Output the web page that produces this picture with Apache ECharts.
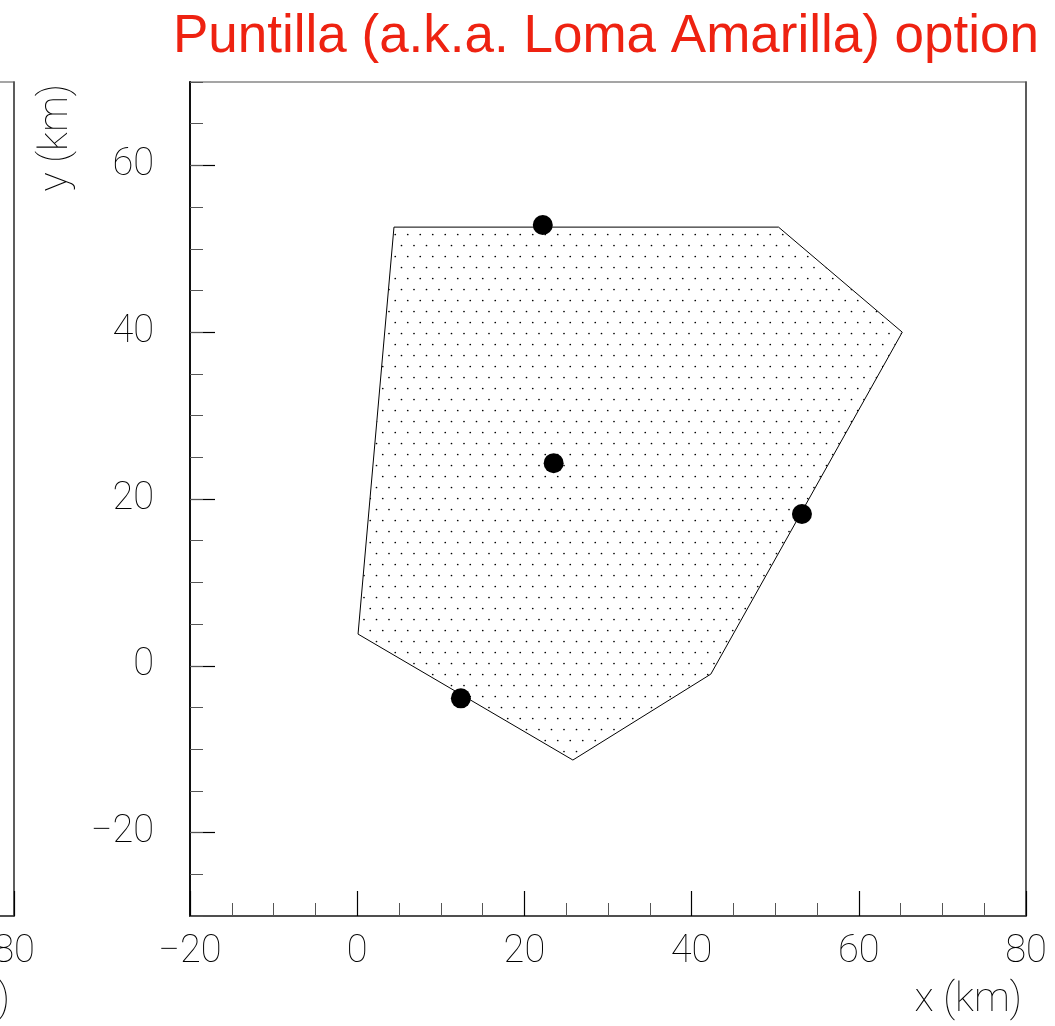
<!DOCTYPE html>
<html><head><meta charset="utf-8">
<script src="https://cdn.jsdelivr.net/npm/echarts@6/dist/echarts.min.js"></script>
<style>html,body{margin:0;padding:0;background:#fff}#c{width:1055px;height:1026px}</style>
</head><body><div id="c"></div>
<script>
// ---- data ----
const polygonX = [4.4, 50.4, 65.2, 42.3, 25.8, 0.1];
const polygonY = [52.6, 52.6, 40.0, -1.0, -11.3, 3.8];
const stationX = [22.2, 23.5, 53.2, 12.4];
const stationY = [52.85, 24.3, 18.2, -3.9];
const xRange = [-20, 80];
const yRange = [-30, 70];
const yMajorTicks = [-20, 0, 20, 40, 60];
const titleText = 'Puntilla (a.k.a. Loma Amarilla) option';
const xName = 'x (km)';
const yName = 'y (km)';

function makePattern() {
  const c = document.createElement('canvas');
  c.width = 25; c.height = 22;
  const g = c.getContext('2d');
  g.fillStyle = '#000';
  [[1.5, 3.5], [14, 3.5], [7.75, 14.5], [20.25, 14.5]].forEach(p => {
    g.beginPath(); g.arc(p[0], p[1], 0.85, 0, Math.PI * 2); g.fill();
  });
  return c;
}
const pattern = makePattern();
const fmt = v => String(v).replace('-', '\u2212');
const labelFont = { fontFamily: 'Roboto', fontWeight: 100, fontSize: 38, color: '#000' };
const nameFont = '100 40px Roboto';

function xAxisFor(gi) {
  return {
    gridIndex: gi, type: 'value', min: xRange[0], max: xRange[1], interval: 20,
    axisLine: { show: true, onZero: false, lineStyle: { color: '#333', width: 1.5 } },
    axisTick: { show: true, inside: true, length: 25, lineStyle: { color: '#000', width: 1.2 } },
    minorTick: { show: true, splitNumber: 4, length: 13, lineStyle: { color: '#555', width: 1 } },
    splitLine: { show: false }, minorSplitLine: { show: false },
    axisLabel: Object.assign({ margin: 17, formatter: fmt }, labelFont)
  };
}
function yAxesFor(gi) {
  return [
    {
      gridIndex: gi, type: 'value', min: yRange[0], max: yRange[1], position: 'left',
      axisLine: { show: true, onZero: false, lineStyle: { color: '#000', width: 1.8 } },
      axisTick: { show: true, inside: true, length: 25, customValues: yMajorTicks, lineStyle: { color: '#000', width: 1.2 } },
      splitLine: { show: false },
      axisLabel: Object.assign({ margin: 36, padding: [7, 0, 0, 0], customValues: yMajorTicks, formatter: fmt }, labelFont)
    },
    {
      gridIndex: gi, type: 'value', min: yRange[0], max: yRange[1], interval: 5, position: 'left',
      axisLine: { show: false, onZero: false }, axisLabel: { show: false }, splitLine: { show: false },
      axisTick: { show: true, inside: true, length: 13, lineStyle: { color: '#555', width: 1 } }
    },
    {
      gridIndex: gi, type: 'value', min: yRange[0], max: yRange[1], position: 'right',
      axisLine: { show: true, onZero: false, lineStyle: { color: '#444', width: 1.5 } },
      axisLabel: { show: false }, axisTick: { show: false }, splitLine: { show: false }
    }
  ];
}

const chart = echarts.init(document.getElementById('c'), null, { renderer: 'canvas' });
const gridCommon = { top: 82, width: 836, height: 834, show: true, borderColor: '#888', borderWidth: 1.5, backgroundColor: 'transparent', containLabel: false, outerBoundsMode: 'none' };

chart.setOption({
  animation: false,
  backgroundColor: '#fff',
  grid: [Object.assign({ left: 190 }, gridCommon), Object.assign({ left: -822 }, gridCommon)],
  xAxis: [xAxisFor(0), xAxisFor(1)],
  yAxis: yAxesFor(0).concat(yAxesFor(1)),
  series: [
    {
      type: 'custom', xAxisIndex: 0, yAxisIndex: 0, coordinateSystem: 'cartesian2d',
      data: polygonX.map((x, i) => [x, polygonY[i]]),
      renderItem: function (params, api) {
        if (params.dataIndex !== 0) return null;
        const pts = polygonX.map((x, i) => api.coord([x, polygonY[i]]));
        return {
          type: 'polygon', shape: { points: pts },
          style: { fill: { image: pattern, repeat: 'repeat' }, stroke: '#000', lineWidth: 1 }
        };
      },
      z: 2
    },
    {
      type: 'scatter', xAxisIndex: 0, yAxisIndex: 0,
      data: stationX.map((x, i) => [x, stationY[i]]),
      symbol: 'circle', symbolSize: 20, itemStyle: { color: '#000', opacity: 1 }, z: 3
    }
  ],
  graphic: [
    { type: 'text', x: 1039, y: 11, style: { text: titleText, fontFamily: 'Liberation Sans', fontSize: 53, fill: '#ee2211', align: 'right', verticalAlign: 'top' } },
    { type: 'text', x: 1022, y: 1001, style: { text: xName, align: 'right', verticalAlign: 'middle', font: nameFont, fill: '#000' } },
    { type: 'text', x: 10, y: 1001, style: { text: xName, align: 'right', verticalAlign: 'middle', font: nameFont, fill: '#000' } },
    { type: 'text', x: 57, y: 84, rotation: Math.PI / 2, style: { text: yName, align: 'right', verticalAlign: 'middle', font: nameFont, fill: '#000' } }
  ]
});
</script></body></html>
